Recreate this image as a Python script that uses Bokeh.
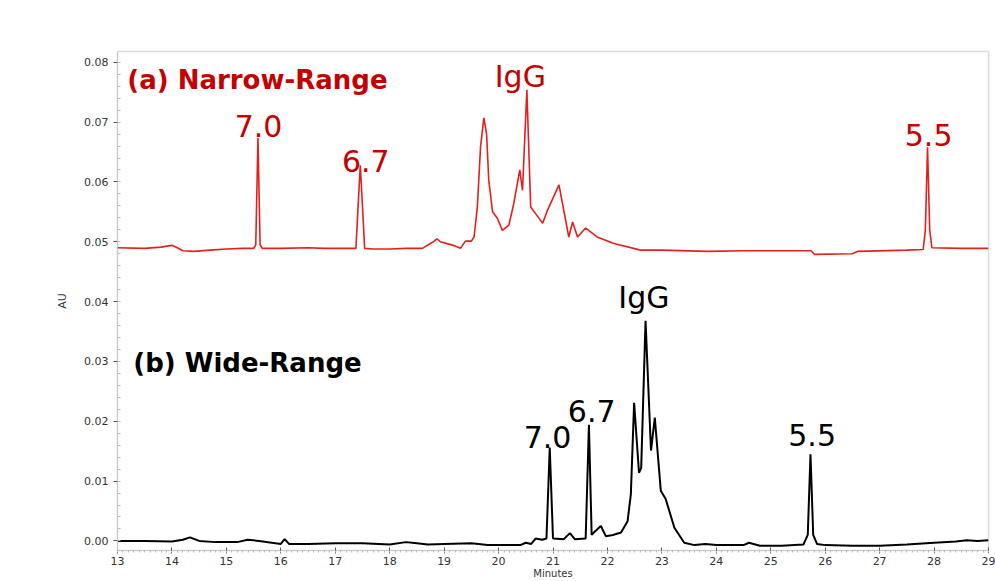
from bokeh.plotting import figure
from bokeh.models import Range1d, SingleIntervalTicker, Label, NumeralTickFormatter
from bokeh.embed import file_html
from bokeh.resources import INLINE

# Narrow-range trace (red)
narrow_t = [13.0, 13.5, 13.8, 14.0, 14.1, 14.2, 14.4, 14.7, 15.0, 15.3, 15.5, 15.54, 15.58, 15.62, 15.66,
            16.0, 16.5, 16.8, 17.0, 17.38, 17.42, 17.46, 17.50, 17.54, 17.7, 18.0, 18.3, 18.6, 18.8, 18.87,
            18.93, 19.17, 19.30, 19.39, 19.50, 19.55, 19.61, 19.67, 19.73, 19.78, 19.82, 19.89, 19.98, 20.07, 20.19, 20.28,
            20.39, 20.44, 20.52, 20.59, 20.68, 20.81, 20.90, 21.11, 21.29, 21.36, 21.45, 21.60, 21.81, 22.12,
            22.61, 23.0, 23.84, 24.5, 25.3, 25.74, 25.80, 26.5, 26.6, 27.5, 27.80, 27.84, 27.88, 27.92, 27.96,
            28.5, 29.0]
narrow_au = [0.0490, 0.0489, 0.0491, 0.0494, 0.0490, 0.0485, 0.0484, 0.0486, 0.0488, 0.0489, 0.0489, 0.0495, 0.0674, 0.0495, 0.0489,
             0.0489, 0.0490, 0.0489, 0.0489, 0.0489, 0.0560, 0.0628, 0.0560, 0.0489, 0.0488, 0.0488, 0.0489, 0.0489, 0.0500, 0.0505,
             0.0500, 0.0494, 0.0489, 0.0501, 0.0501, 0.0508, 0.0558, 0.0660, 0.0707, 0.0680, 0.0603, 0.0550, 0.0539, 0.0519, 0.0528, 0.0564,
             0.0620, 0.0586, 0.0754, 0.0558, 0.0547, 0.0531, 0.0553, 0.0595, 0.0508, 0.0533, 0.0508, 0.0523, 0.0508, 0.0497,
             0.0486, 0.0486, 0.0484, 0.0485, 0.0485, 0.0485, 0.0479, 0.0480, 0.0484, 0.0486, 0.0487, 0.0520, 0.0658, 0.0520, 0.0490,
             0.0489, 0.0489]

# Wide-range trace (black)
wide_t = [13.0, 13.5, 14.0, 14.2, 14.33, 14.5, 14.8, 15.2, 15.39, 15.6, 16.0, 16.07, 16.15, 16.5, 17.0, 17.5,
          18.0, 18.3, 18.5, 18.7, 19.0, 19.5, 19.8, 20.2, 20.4, 20.5, 20.6, 20.68, 20.8, 20.88, 20.94, 21.00,
          21.2, 21.31, 21.4, 21.60, 21.66, 21.71, 21.75, 21.88, 21.97, 22.1, 22.25, 22.37, 22.43, 22.49, 22.58,
          22.62, 22.70, 22.80, 22.87, 22.98, 23.07, 23.23, 23.41, 23.6, 23.8, 24.0, 24.5, 24.6, 24.8, 25.2,
          25.6, 25.68, 25.73, 25.78, 25.85, 26.0, 26.5, 27.0, 27.5, 28.0, 28.4, 28.6, 28.8, 29.0]
wide_au = [0.0000, 0.0000, -0.0001, 0.0002, 0.0006, 0.0000, -0.0002, -0.0002, 0.0002, 0.0000, -0.0005, 0.0003, -0.0005, -0.0005, -0.0004, -0.0004,
           -0.0006, -0.0002, -0.0004, -0.0006, -0.0005, -0.0004, -0.0007, -0.0007, -0.0007, -0.0003, -0.0005, 0.0004, 0.0002, 0.0004, 0.0156, 0.0004,
           0.0003, 0.0013, 0.0003, 0.0004, 0.0194, 0.0010, 0.0014, 0.0025, 0.0008, 0.0010, 0.0014, 0.0033, 0.0078, 0.0231, 0.0114,
           0.0122, 0.0368, 0.0151, 0.0206, 0.0084, 0.0070, 0.0022, -0.0003, -0.0007, -0.0005, -0.0007, -0.0007, -0.0003, -0.0008, -0.0008,
           -0.0006, 0.0010, 0.0145, 0.0010, -0.0005, -0.0007, -0.0008, -0.0008, -0.0006, -0.0003, -0.0001, 0.0001, 0.0000, 0.0001]

# Peak annotations: (text, time, AU at text baseline)
narrow_labels = ["7.0", "6.7", "IgG", "5.5"]
narrow_label_t = [15.59, 17.56, 20.40, 27.90]
narrow_label_au = [0.0675, 0.0617, 0.0758, 0.0660]
wide_labels = ["7.0", "6.7", "IgG", "5.5"]
wide_label_t = [20.90, 21.71, 22.67, 25.76]
wide_label_au = [0.0155, 0.0199, 0.0388, 0.0159]

RED_LINE = "#e3201c"
RED_TEXT = "#c40000"
FONT = "DejaVu Sans"

p = figure(width=995, height=581, x_range=Range1d(13, 29), y_range=Range1d(-0.0016, 0.0818),
           output_backend="svg", toolbar_location=None,
           min_border_left=117, min_border_right=7, min_border_top=51, min_border_bottom=29)
p.background_fill_color = "white"
p.border_fill_color = "white"
p.outline_line_color = "#dcdcdc"
p.outline_line_width = 1.5
p.xgrid.visible = False
p.ygrid.visible = False

p.line(narrow_t, narrow_au, line_color=RED_LINE, line_width=1.6)
p.line(wide_t, wide_au, line_color="black", line_width=2)

p.xaxis.ticker = SingleIntervalTicker(interval=1, num_minor_ticks=10)
p.yaxis.ticker = SingleIntervalTicker(interval=0.01, num_minor_ticks=5)
p.yaxis.formatter = NumeralTickFormatter(format="0.00")

for ax in (p.xaxis[0], p.yaxis[0]):
    ax.axis_line_color = "#c8c8c8"
    ax.axis_line_width = 1
    ax.major_tick_line_color = "#555555"
    ax.minor_tick_line_color = "#bbbbbb"
    ax.minor_tick_in = 3
    ax.minor_tick_out = 0
    ax.major_label_text_font = FONT
    ax.major_label_text_font_size = "11px"
    ax.major_label_text_color = "#333333"
    ax.axis_label_text_font = FONT
    ax.axis_label_text_font_size = "11px"
    ax.axis_label_text_font_style = "normal"
    ax.axis_label_text_color = "#333333"

p.yaxis.major_tick_out = 4
p.yaxis.major_tick_in = 0
p.yaxis.major_label_standoff = 5
p.yaxis.axis_label = "AU"
p.yaxis.axis_label_standoff = 12

p.xaxis.major_tick_out = 3
p.xaxis.major_tick_in = 3
p.xaxis.minor_tick_in = 0
p.xaxis.minor_tick_out = 2
p.xaxis.major_label_standoff = 3
p.xaxis.axis_label = "Minutes"
p.xaxis.axis_label_text_font_size = "10px"
p.xaxis.axis_label_standoff = 0

BIG = 30
for txt, t, au in zip(narrow_labels, narrow_label_t, narrow_label_au):
    p.add_layout(Label(x=t, y=au, text=txt, text_align="center", text_baseline="alphabetic",
                       y_offset=11, text_font=FONT, text_font_size=f"{BIG}px", text_color=RED_TEXT))
for txt, t, au in zip(wide_labels, wide_label_t, wide_label_au):
    p.add_layout(Label(x=t, y=au, text=txt, text_align="center", text_baseline="alphabetic",
                       y_offset=11, text_font=FONT, text_font_size=f"{BIG}px", text_color="black"))

p.add_layout(Label(x=13.18, y=0.0756, text="(a) Narrow-Range", text_align="left", text_baseline="alphabetic",
                   y_offset=9, text_font=FONT, text_font_size="26px", text_font_style="bold", text_color=RED_TEXT))
p.add_layout(Label(x=13.29, y=0.0283, text="(b) Wide-Range", text_align="left", text_baseline="alphabetic",
                   y_offset=9, text_font=FONT, text_font_size="26px", text_font_style="bold", text_color="black"))

open("out.html", "w").write(file_html(p, INLINE))
